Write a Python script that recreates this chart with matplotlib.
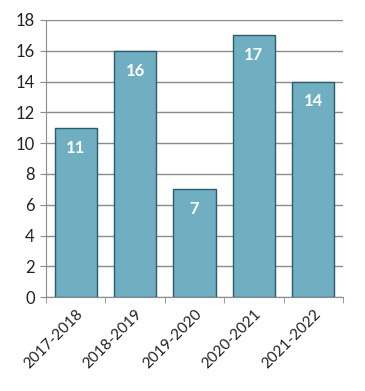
import matplotlib
matplotlib.use("Agg")
import matplotlib.pyplot as plt
import numpy as np

seasons = ["2017-2018", "2018-2019", "2019-2020", "2020-2021", "2021-2022"]
counts = [11, 16, 7, 17, 14]
y_ticks = [0, 2, 4, 6, 8, 10, 12, 14, 16, 18]

plt.rcParams["font.family"] = ["Lato", "DejaVu Sans"]

fig = plt.figure(figsize=(3.65, 3.91), dpi=100)
ax = fig.add_axes([0.126, 0.240, 0.814, 0.709])

x = np.arange(len(seasons))
bars = ax.bar(x, counts, width=0.71, color="#70afc2", edgecolor="#2a5d6c", linewidth=1.0, zorder=3)

for rect, val in zip(bars, counts):
    ax.annotate(str(val), (rect.get_x() + rect.get_width() / 2, rect.get_height()),
                xytext=(0, -8.5), textcoords="offset points", ha="center", va="top",
                color="white", fontsize=12, fontweight="bold", zorder=4)

ax.set_xlim(-0.5, len(seasons) - 0.5)
ax.set_ylim(0, 18)
ax.set_yticks(y_ticks)
ax.yaxis.grid(True, color="#8c8c8c", linewidth=1.0, zorder=0)
ax.tick_params(axis="y", length=4, color="#8c8c8c", labelsize=12, pad=4, labelcolor="#222222")

ax.set_xticks(x)
ax.set_xticklabels(seasons, rotation=45, ha="right", rotation_mode="anchor", fontsize=11, color="#222222")
ax.tick_params(axis="x", which="major", length=0, pad=7)
ax.set_xticks(np.arange(len(seasons) + 1) - 0.5, minor=True)
ax.tick_params(axis="x", which="minor", length=4, color="#8c8c8c")

for side in ["top", "right"]:
    ax.spines[side].set_visible(False)
for side in ["left", "bottom"]:
    ax.spines[side].set_color("#8c8c8c")

fig.savefig("out.png", dpi=100)
